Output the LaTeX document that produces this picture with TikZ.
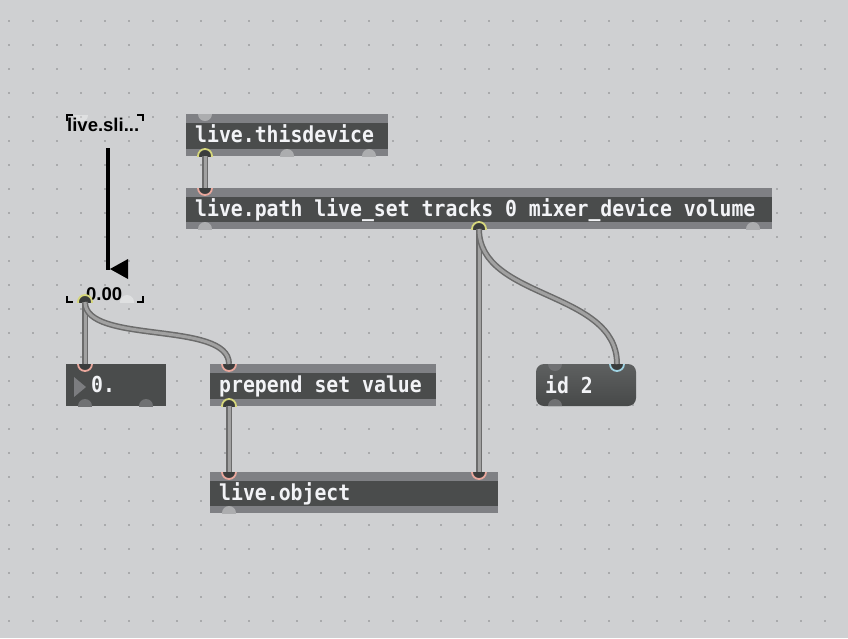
\documentclass[tikz,border=0pt]{standalone}
\usepackage{fontspec}
\newfontfamily\maxfont{DejaVu Sans Mono}[FakeStretch=0.9]
\newfontfamily\lblfont{Liberation Sans}
\definecolor{bgc}{HTML}{CFD0D2}
\definecolor{dotc}{HTML}{A9AAAC}
\definecolor{bandc}{HTML}{7F8084}
\definecolor{darkc}{HTML}{4A4C4C}
\definecolor{portlight}{HTML}{ACADAF}
\definecolor{portmid}{HTML}{707173}
\definecolor{portdark}{HTML}{3A3C3C}
\definecolor{ringy}{HTML}{D6D77C}
\definecolor{ringp}{HTML}{E9A79C}
\definecolor{ringb}{HTML}{9FD3E3}
\definecolor{cabedge}{HTML}{6B6B6B}
\definecolor{cabin}{HTML}{A1A1A1}
\definecolor{txtc}{HTML}{F2F3F6}
\definecolor{msgtop}{HTML}{5E6060}
\definecolor{msgbot}{HTML}{474949}
\definecolor{tric}{HTML}{7C7D80}
\tikzset{
  boxtext/.style={font=\maxfont\bfseries\fontsize{22}{24}\selectfont, text=txtc, inner sep=0pt, anchor=base west},
  lbltext/.style={font=\lblfont\bfseries\fontsize{18.5}{20}\selectfont, text=black, inner sep=0pt, anchor=base west},
  cable/.style={line width=6pt, draw=cabedge, postaction={draw=cabin, line width=3pt}},
  pfree/.style={fill=portlight},
  pmid/.style={fill=portmid},
  pconY/.style={fill=portdark, draw=ringy, line width=1.8pt},
  pconP/.style={fill=portdark, draw=ringp, line width=1.8pt},
  pconB/.style={fill=portdark, draw=ringb, line width=1.8pt},
  pghost/.style={fill=white, fill opacity=0.35},
  bracket/.style={draw=black, line width=2pt},
}
\newcommand\maxbox[6]{%
  \fill[bandc] (#2,#3) rectangle (#4,#5);
  \fill[darkc] (#2,#3+9) rectangle (#4,#5-7.5);
  \node[boxtext] (#1) at (#2+9,#3+28) {#6};
}
\newcommand\inport[3]{%
  \begin{scope}\clip (#1-10,#2) rectangle (#1+10,#2+10);
  \path[#3] (#1,#2) circle[radius=7pt];\end{scope}}
\newcommand\outport[3]{%
  \begin{scope}\clip (#1-10,#2-10) rectangle (#1+10,#2);
  \path[#3] (#1,#2) circle[radius=7pt];\end{scope}}
\begin{document}
\begin{tikzpicture}[x=1pt,y=-1pt]
\useasboundingbox (0,0) rectangle (848,638);
\fill[bgc] (0,0) rectangle (848,638);
\foreach \gx in {9,33,...,849} {
  \foreach \gy in {21,45,...,637} {
    \fill[dotc] (\gx-1,\gy-1) rectangle (\gx+1,\gy+1);
  }
}
% slider
\draw[bracket] (67,121) -- (67,115) -- (73,115);
\draw[bracket] (137,115) -- (143,115) -- (143,121);
\draw[bracket] (67,296) -- (67,302) -- (73,302);
\draw[bracket] (137,302) -- (143,302) -- (143,296);
\inport{81}{115}{pghost}
\outport{127}{302}{pghost}
\node[lbltext] (slname) at (67,131.5) {live.sli...};
\draw[black, line width=4pt] (108,148) -- (108,270);
\fill[black] (110,269) -- (128,259) -- (128,279) -- cycle;
\node[lbltext] (slval) at (86,300) {0.00};
\outport{85}{302}{pconY}
\coordinate (sl-out) at (85,302);
% live.thisdevice
\maxbox{thisdev}{186}{114}{388}{156}{live.thisdevice}
\inport{205}{114}{pfree}
\outport{205}{156}{pconY}
\outport{287}{156}{pfree}
\outport{369}{156}{pfree}
\coordinate (td-out) at (205,156);
% live.path
\maxbox{livepath}{186}{188}{772}{229}{live.path live\_set tracks 0 mixer\_device volume}
\inport{205}{188}{pconP}
\outport{205}{229}{pfree}
\outport{479}{229}{pconY}
\outport{753}{229}{pfree}
\coordinate (lp-in) at (205,188);
\coordinate (lp-out) at (479,229);
% flonum
\fill[darkc] (66,364) rectangle (166,406);
\fill[tric] (74,377) -- (86,387) -- (74,397) -- cycle;
\node[boxtext] (flonum) at (91,392) {0.};
\inport{85}{364}{pconP}
\outport{85}{406}{pmid}
\outport{146}{406}{pmid}
\coordinate (fl-in) at (85,364);
% prepend
\maxbox{prepend}{210}{364}{436}{406}{prepend set value}
\inport{229}{364}{pconP}
\outport{229}{406}{pconY}
\coordinate (pp-in) at (229,364);
\coordinate (pp-out) at (229,406);
% id 2 message
\shade[top color=msgtop, bottom color=msgbot, rounded corners=8pt] (536,364) rectangle (636,406);
\node[boxtext] (msg) at (545,393) {id 2};
\begin{scope}
  \clip[rounded corners=8pt] (536,364) rectangle (636,406);
  \inport{555}{364}{pmid}
  \outport{555}{406}{pmid}
  \inport{617}{364}{pconB}
\end{scope}
\coordinate (msg-in) at (617,364);
% live.object
\maxbox{liveobj}{210}{472}{498}{513}{live.object}
\inport{229}{472}{pconP}
\inport{479}{472}{pconP}
\outport{229}{513}{pfree}
\coordinate (lo-in0) at (229,472);
\coordinate (lo-in1) at (479,472);
% cables
\draw[cable] (td-out) -- (lp-in);
\draw[cable] (sl-out) -- (fl-in);
\draw[cable] (sl-out) .. controls (85,345) and (229,320) .. (pp-in);
\draw[cable] (pp-out) -- (lo-in0);
\draw[cable] (lp-out) -- (lo-in1);
\draw[cable] (lp-out) .. controls (479,300) and (617,290) .. (msg-in);
\end{tikzpicture}
\end{document}
